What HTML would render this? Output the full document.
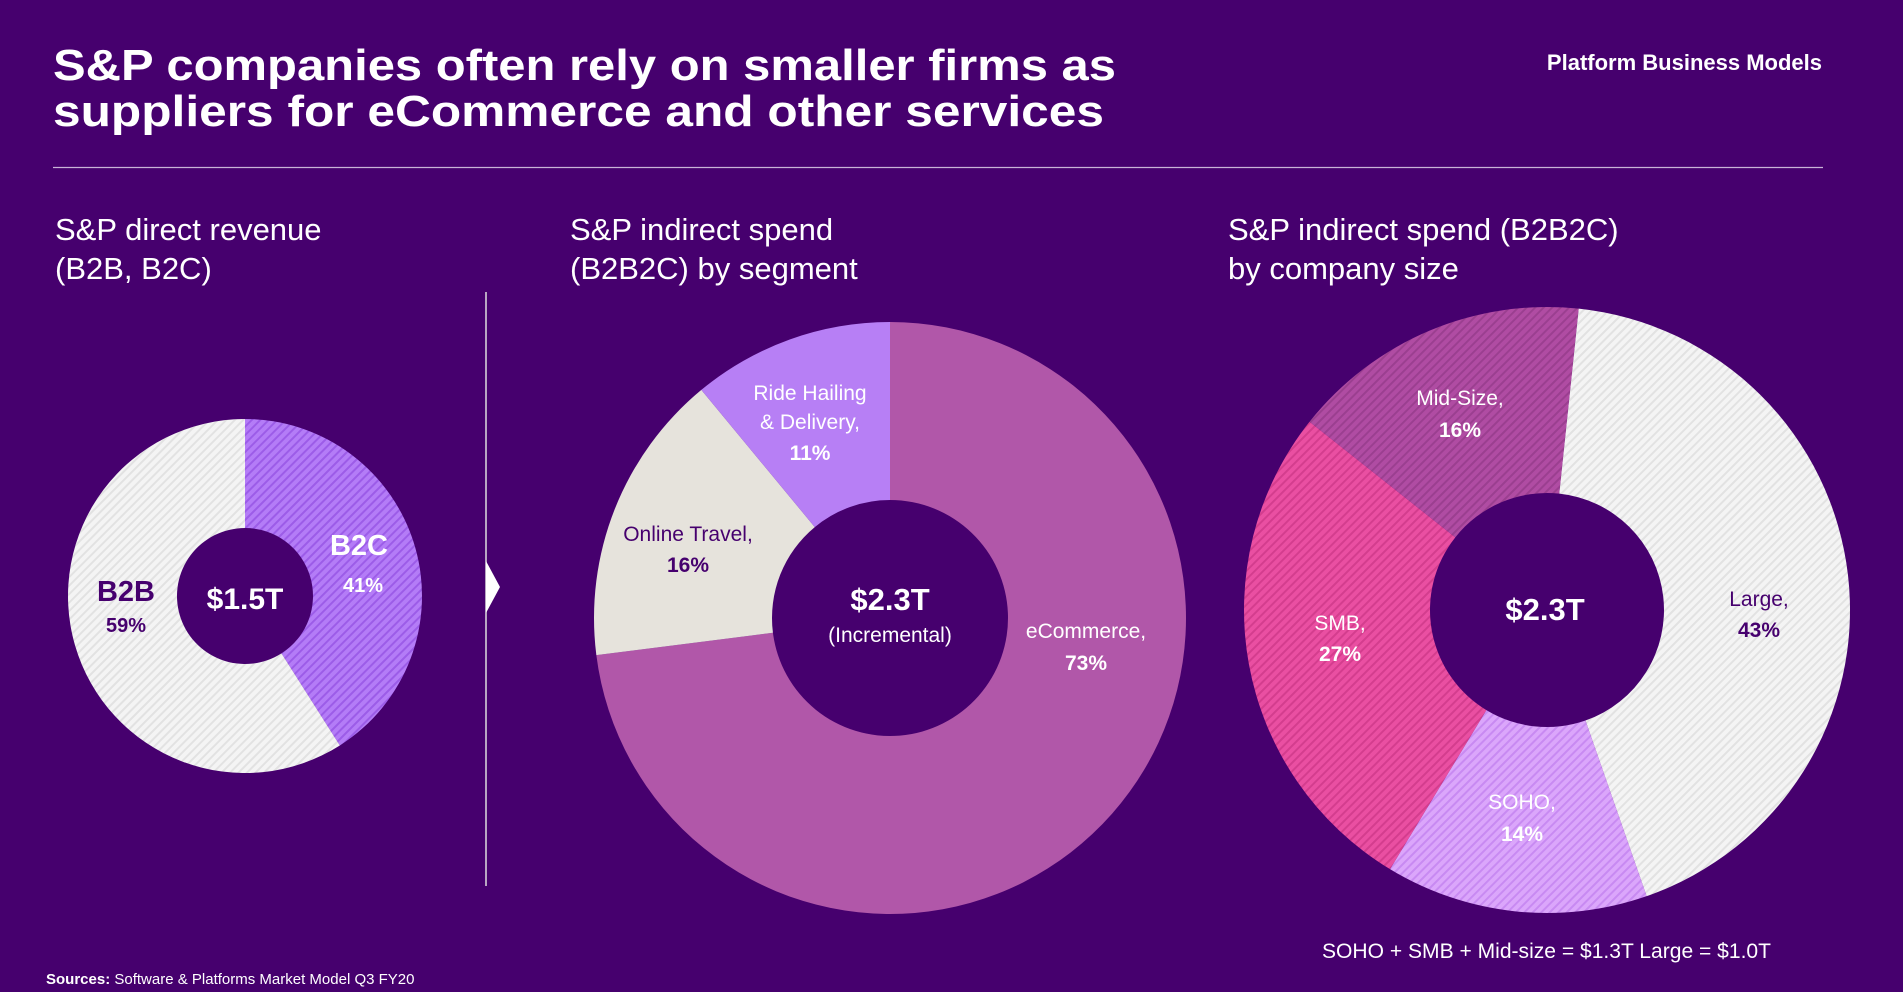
<!DOCTYPE html>
<html><head><meta charset="utf-8"><style>
html,body{margin:0;padding:0;background:#46006e;}
svg{display:block;font-family:"Liberation Sans",sans-serif;}
</style></head><body>
<svg id="s" width="1903" height="992" viewBox="0 0 1903 992">
<defs>
<pattern id="hW" width="6" height="6" patternUnits="userSpaceOnUse" patternTransform="rotate(45)"><rect width="6" height="6" fill="#f4f4f4"/><rect width="2" height="6" fill="#e2e2e2"/></pattern>
<pattern id="hP" width="6" height="6" patternUnits="userSpaceOnUse" patternTransform="rotate(45)"><rect width="6" height="6" fill="#b47cf7"/><rect width="2" height="6" fill="#9c5ce8"/></pattern>
<pattern id="hL" width="6" height="6" patternUnits="userSpaceOnUse" patternTransform="rotate(45)"><rect width="6" height="6" fill="#dba6fb"/><rect width="2" height="6" fill="#c88af2"/></pattern>
<pattern id="hK" width="6" height="6" patternUnits="userSpaceOnUse" patternTransform="rotate(45)"><rect width="6" height="6" fill="#ea4fa2"/><rect width="2" height="6" fill="#d43d8e"/></pattern>
<pattern id="hM" width="6" height="6" patternUnits="userSpaceOnUse" patternTransform="rotate(45)"><rect width="6" height="6" fill="#b04ca3"/><rect width="2" height="6" fill="#9b3f90"/></pattern>
</defs>
<rect width="1903" height="992" fill="#46006e"/>
<text x="53" y="80" font-size="44" font-weight="bold" fill="#fff" textLength="1063" lengthAdjust="spacingAndGlyphs">S&amp;P companies often rely on smaller firms as</text>
<text x="53" y="126" font-size="44" font-weight="bold" fill="#fff" textLength="1051" lengthAdjust="spacingAndGlyphs">suppliers for eCommerce and other services</text>
<text x="1822" y="70" font-size="22" font-weight="bold" fill="#fff" text-anchor="end">Platform Business Models</text>
<line x1="53" y1="167.5" x2="1823" y2="167.5" stroke="#c9b3d8" stroke-width="1.2"/>
<g fill="#fff" font-size="31">
<text x="55" y="240">S&amp;P direct revenue</text><text x="55" y="279">(B2B, B2C)</text>
<text x="570" y="240">S&amp;P indirect spend</text><text x="570" y="279">(B2B2C) by segment</text>
<text x="1228" y="240">S&amp;P indirect spend (B2B2C)</text><text x="1228" y="279">by company size</text>
</g>
<line x1="486" y1="292" x2="486" y2="886" stroke="#ddd" stroke-width="1.5"/>
<polygon points="486,561 500,587 486,613" fill="#fff"/>
<g id="c1"></g>
<g id="c2"></g>
<g id="c3"></g>
<text x="1322" y="958" font-size="21" fill="#fff" textLength="449" lengthAdjust="spacingAndGlyphs">SOHO + SMB + Mid-size = $1.3T Large = $1.0T</text>
<text x="46" y="984" font-size="15" fill="#fff"><tspan font-weight="bold">Sources:</tspan> Software &amp; Platforms Market Model Q3 FY20</text>
</svg>
<script>
const c1Labels=["B2C","B2B"];
const c1Values=[41,59];
const c2Labels=["eCommerce","Online Travel","Ride Hailing & Delivery"];
const c2Values=[73,16,11];
const c3Labels=["Large","SOHO","SMB","Mid-Size"];
const c3Values=[43,14,27,16];
const NS="http://www.w3.org/2000/svg";
function arc(cx,cy,R,r,a0,a1){
  const p=(rad,a)=>[cx+rad*Math.sin(a),cy-rad*Math.cos(a)];
  const L=(a1-a0)>Math.PI?1:0;
  const [x0,y0]=p(R,a0),[x1,y1]=p(R,a1),[x2,y2]=p(r,a1),[x3,y3]=p(r,a0);
  return `M${x0},${y0}A${R},${R} 0 ${L} 1 ${x1},${y1}L${x2},${y2}A${r},${r} 0 ${L} 0 ${x3},${y3}Z`;
}
function donut(gid,vals,names,fills,cx,cy,R,r,start){
  const g=document.getElementById(gid);
  const tot=vals.reduce((a,b)=>a+b,0);
  let a=start;
  vals.forEach((v,i)=>{
    const a1=a+v/tot*2*Math.PI;
    const p=document.createElementNS(NS,"path");
    p.setAttribute("d",arc(cx,cy,R,r,a,a1));
    p.setAttribute("fill",fills[i]);
    
    
    g.appendChild(p);
    a=a1;
  });
}
function txt(gid,x,y,s,size,bold,fill,name){
  const t=document.createElementNS(NS,"text");
  t.setAttribute("x",x);t.setAttribute("y",y);t.setAttribute("font-size",size);
  if(bold)t.setAttribute("font-weight","bold");
  t.setAttribute("fill",fill);t.setAttribute("text-anchor","middle");
  t.textContent=s;
  
  
  document.getElementById(gid).appendChild(t);
}
const DK="#46006e";
donut("c1",c1Values,c1Labels,["url(#hP)","url(#hW)"],245,596,177,68,0);
txt("c1",245,609,"$1.5T",30,true,"#fff","center-total");
txt("c1",359,555,"B2C",29,true,"#fff","label-b2c");
txt("c1",363,592,c1Values[0]+"%",20,true,"#fff","value-b2c");
txt("c1",126,601,"B2B",29,true,DK,"label-b2b");
txt("c1",126,632,c1Values[1]+"%",20,true,DK,"value-b2b");

donut("c2",c2Values,c2Labels,["#b157a9","#e6e3dc","#b77ff5"],890,618,296,118,0);
txt("c2",890,610,"$2.3T",31,true,"#fff","center-total");
txt("c2",890,642,"(Incremental)",21,false,"#fff","center-note");
txt("c2",1086,638,"eCommerce,",21,false,"#fff","label-ecommerce");
txt("c2",1086,670,c2Values[0]+"%",21,true,"#fff","value-ecommerce");
txt("c2",688,541,"Online Travel,",21,false,DK,"label-online-travel");
txt("c2",688,572,c2Values[1]+"%",21,true,DK,"value-online-travel");
txt("c2",810,400,"Ride Hailing",21,false,"#fff","label-ride-hailing");
txt("c2",810,429,"& Delivery,",21,false,"#fff","label-ride-hailing-2");
txt("c2",810,460,c2Values[2]+"%",21,true,"#fff","value-ride-hailing");

donut("c3",c3Values,c3Labels,["url(#hW)","url(#hL)","url(#hK)","url(#hM)"],1547,610,303,117,6*Math.PI/180);
txt("c3",1545,620,"$2.3T",31,true,"#fff","center-total");
txt("c3",1759,606,"Large,",21,false,DK,"label-large");
txt("c3",1759,637,c3Values[0]+"%",21,true,DK,"value-large");
txt("c3",1522,809,"SOHO,",21,false,"#fff","label-soho");
txt("c3",1522,841,c3Values[1]+"%",21,true,"#fff","value-soho");
txt("c3",1340,630,"SMB,",21,false,"#fff","label-smb");
txt("c3",1340,661,c3Values[2]+"%",21,true,"#fff","value-smb");
txt("c3",1460,405,"Mid-Size,",21,false,"#fff","label-mid-size");
txt("c3",1460,437,c3Values[3]+"%",21,true,"#fff","value-mid-size");
</script>
</body></html>
